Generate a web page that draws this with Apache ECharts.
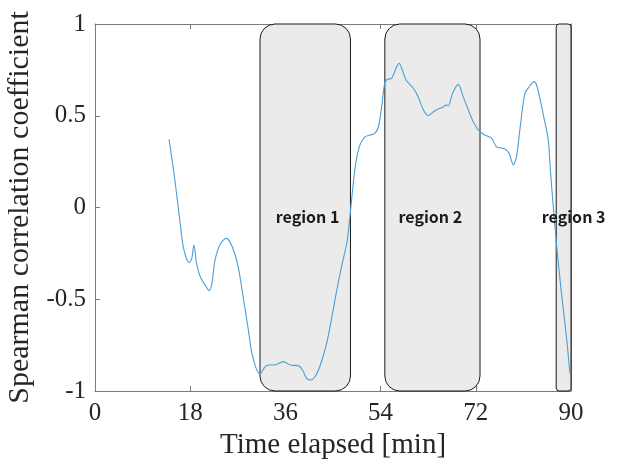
<!DOCTYPE html>
<html>
<head>
<meta charset="utf-8">
<script src="https://cdn.jsdelivr.net/npm/echarts@6/dist/echarts.min.js"></script>
<style>
  html, body { margin: 0; padding: 0; background: #fff; }
  #chart { width: 618px; height: 472px; }
</style>
</head>
<body>
<div id="chart"></div>
<script>
// time (min) and spearman rho
var timeMin = [14.0, 15.1, 16.1, 16.8, 17.8, 18.3, 18.7, 19.2, 19.9, 20.8, 21.6, 22.1, 22.7, 23.6,
    24.8, 25.5, 26.5, 27.3, 28.2, 29.0, 29.6, 30.4, 31.2, 32.1, 32.8, 34.0, 35.6, 36.9, 38.6,
    39.4, 40.0, 40.8, 41.6, 42.5, 43.8, 44.8, 45.6, 46.6, 47.6, 48.2, 48.7, 49.3, 50.1, 51.1,
    52.0, 52.9, 53.6, 54.2, 54.8, 55.3, 56.1, 56.9, 57.5, 58.0, 58.8, 60.2, 61.1, 62.1, 63.0,
    64.0, 64.9, 65.9, 66.4, 66.8, 67.6, 68.7, 69.6, 70.6, 71.5, 72.5, 73.7, 75.0, 75.9, 77.5,
    78.3, 79.1, 79.7, 80.4, 81.3, 82.2, 83.0, 83.6, 84.8, 85.7, 86.1, 86.7, 87.3, 88.2, 89.2, 89.8]
var rho = [0.372, 0.15, -0.086, -0.23, -0.30, -0.277, -0.204, -0.304, -0.377, -0.422, -0.453, -0.413, -0.286, -0.204,
    -0.168, -0.186, -0.259, -0.359, -0.522, -0.668, -0.786, -0.871, -0.907, -0.870, -0.858, -0.858, -0.840, -0.858, -0.864,
    -0.895, -0.931, -0.940, -0.922, -0.868, -0.740, -0.595, -0.468, -0.323, -0.195, -0.050, 0.095, 0.241, 0.341, 0.386,
    0.395, 0.404, 0.440, 0.549, 0.680, 0.699, 0.704, 0.758, 0.786, 0.758, 0.695, 0.650, 0.604, 0.531, 0.500,
    0.522, 0.537, 0.549, 0.559, 0.553, 0.622, 0.671, 0.604, 0.531, 0.468, 0.422, 0.395, 0.377, 0.331, 0.319,
    0.295, 0.232, 0.277, 0.440, 0.622, 0.662, 0.686, 0.658, 0.500, 0.368, 0.204, -0.014, -0.214, -0.468, -0.722, -0.905]

var regionStart = [31.2, 54.8, 87.2]
var regionEnd = [48.3, 72.8, 90]
var regionNames = ['region 1', 'region 2', 'region 3']
var labelX = [40.2, 63.4, 90.5]
var labelY = [-0.05, -0.05, -0.05]

var xTicks = [0, 18, 36, 54, 72, 90]
var yTicks = [-1, -0.5, 0, 0.5, 1]

var lineData = timeMin.map(function (t, i) { return [t, rho[i]] })
var regionData = regionStart.map(function (s, i) { return [s, regionEnd[i]] })
var labelData = labelX.map(function (x, i) { return [x, labelY[i], regionNames[i]] })

var axisGrey = '#7a7a7a'
var textDark = '#262626'
var serif = '"Liberation Serif", "Times New Roman", serif'

var dom = echarts.init(document.getElementById('chart'), null, { renderer: 'canvas' })

// shared look for the box axes (MATLAB "box on")
function boxLine () {
    return { show: true, onZero: false, lineStyle: { color: axisGrey, width: 1 } }
}
function boxTick () {
    return { show: true, inside: true, length: 5, lineStyle: { color: axisGrey } }
}

var option = {
    animation: false,
    backgroundColor: '#fff',
    grid: { left: 95, right: 47, top: 24, bottom: 81, containLabel: false, outerBoundsMode: 'none' },
    xAxis: [
        {
            type: 'value', min: 0, max: 90, interval: 18,
            name: 'Time elapsed [min]', nameLocation: 'middle', nameGap: 40,
            nameTextStyle: { fontFamily: serif, fontSize: 29, color: textDark },
            axisLine: boxLine(),
            axisTick: boxTick(),
            axisLabel: {
                margin: 10, fontFamily: serif, fontSize: 25, color: textDark,
                formatter: function (v) { return xTicks.indexOf(v) >= 0 ? String(v) : '' }
            },
            splitLine: { show: false }
        },
        {
            type: 'value', min: 0, max: 90, interval: 18, position: 'top',
            axisLine: boxLine(),
            axisTick: boxTick(),
            axisLabel: { show: false },
            splitLine: { show: false }
        }
    ],
    yAxis: [
        {
            type: 'value', min: -1, max: 1, interval: 0.5,
            name: 'Spearman correlation coefficient', nameLocation: 'middle', nameGap: 50,
            nameTextStyle: { fontFamily: serif, fontSize: 30, color: textDark },
            axisLine: boxLine(),
            axisTick: boxTick(),
            axisLabel: {
                margin: 9, fontFamily: serif, fontSize: 25, color: textDark,
                formatter: function (v) { return yTicks.indexOf(v) >= 0 ? String(v) : '' }
            },
            splitLine: { show: false }
        },
        {
            type: 'value', min: -1, max: 1, interval: 0.5, position: 'right',
            axisLine: boxLine(),
            axisTick: boxTick(),
            axisLabel: { show: false },
            splitLine: { show: false }
        }
    ],
    series: [
        {
            // shaded rounded boxes
            type: 'custom',
            z: 1,
            data: regionData,
            renderItem: function (params, api) {
                var p1 = api.coord([api.value(0), 1])
                var p2 = api.coord([api.value(1), -1])
                var w = p2[0] - p1[0]
                var h = p2[1] - p1[1]
                var r = Math.min(15, w * 0.2)
                return {
                    type: 'rect',
                    shape: { x: p1[0], y: p1[1], width: w, height: h, r: r },
                    style: { fill: '#ebebeb', stroke: '#1a1a1a', lineWidth: 1 }
                }
            }
        },
        {
            type: 'line',
            z: 3,
            data: lineData,
            smooth: 0.3,
            showSymbol: false,
            lineStyle: { color: '#4a9fd8', width: 1.1 },
            itemStyle: { color: '#4a9fd8' }
        },
        {
            // region labels
            type: 'custom',
            z: 5,
            data: labelData,
            renderItem: function (params, api) {
                var p = api.coord([api.value(0), api.value(1)])
                return {
                    type: 'text',
                    x: p[0], y: p[1],
                    style: {
                        text: regionNames[params.dataIndex],
                        fontFamily: '"Noto Sans CJK JP", "Noto Sans", sans-serif',
                        fontWeight: 'bold', fontSize: 16, fill: '#1a1a1a',
                        align: 'center', verticalAlign: 'middle'
                    }
                }
            }
        }
    ]
}

dom.setOption(option)
</script>
</body>
</html>
